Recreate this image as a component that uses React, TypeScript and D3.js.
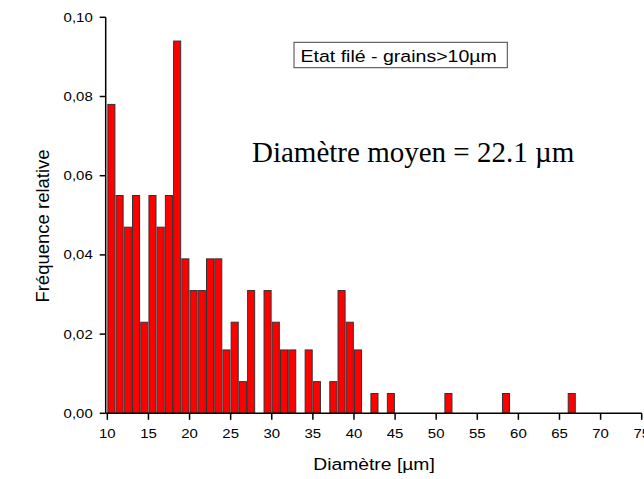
import React from "react";
import * as d3 from "d3";

const bins: number[] = [10, 11, 12, 13, 14, 15, 16, 17, 18, 19, 20, 21, 22, 23, 24, 25, 26, 27, 29, 30, 31, 32, 34, 35, 37, 38, 39, 40, 42, 44, 51, 58, 66];
const freqs: number[] = [0.078, 0.055, 0.047, 0.055, 0.023, 0.055, 0.047, 0.055, 0.094, 0.039, 0.031, 0.031, 0.039, 0.039, 0.016, 0.023, 0.008, 0.031, 0.031, 0.023, 0.016, 0.016, 0.016, 0.008, 0.008, 0.031, 0.023, 0.016, 0.005, 0.005, 0.005, 0.005, 0.005];
const xTicks: number[] = [10, 15, 20, 25, 30, 35, 40, 45, 50, 55, 60, 65, 70, 75];
const yTicks: number[] = [0, 0.02, 0.04, 0.06, 0.08, 0.1];
const legendText = "Etat filé - grains>10µm";
const annotation = "Diamètre moyen = 22.1 µm";
const xTitle = "Diamètre [µm]";
const yTitle = "Fréquence relative";

const W = 644;
const H = 479;
const SANS = "'Liberation Sans', Arial, sans-serif";
const SERIF = "'Liberation Serif', 'Times New Roman', serif";
const SX = 1.15;

export default function App() {
  const x = d3.scaleLinear().domain([9.8, 75]).range([105.7, 641.7]);
  const y = d3.scaleLinear().domain([0, 0.1]).range([413.3, 17.3]);
  const fmt = (v: number) => d3.format(".2f")(v).replace(".", ",");
  const data = bins.map((b, i) => ({ b, v: freqs[i] }));

  return (
    <svg width={W} height={H} style={{ position: "absolute", left: 0, top: 0, background: "#fff" }}>
      <rect x={0} y={0} width={W} height={H} fill="#fff" />
      {data.map((d, i) => (
        <rect
          key={i}
          x={x(d.b) + 0.5}
          y={y(d.v)}
          width={x(d.b + 0.86) - x(d.b)}
          height={y(0) - y(d.v)}
          fill="#ff0000"
          stroke="#333"
          strokeWidth={1}
        />
      ))}
      <line x1={x(9.8)} x2={x(9.8)} y1={y(0.1)} y2={y(0)} stroke="#000" strokeWidth={1.5} />
      <line x1={x(9.8)} x2={x(75)} y1={y(0)} y2={y(0)} stroke="#000" strokeWidth={1.5} />
      {yTicks.map((t) => (
        <g key={"y" + t}>
          <line x1={x(9.8) - 6} x2={x(9.8)} y1={y(t)} y2={y(t)} stroke="#000" strokeWidth={1.5} />
          <text
            transform={`translate(${x(9.8) - 13},${y(t) + 4.5}) scale(${SX},1)`}
            textAnchor="end"
            fontFamily={SANS}
            fontSize={13}
            fill="#000"
          >
            {fmt(t)}
          </text>
        </g>
      ))}
      {xTicks.map((t) => (
        <g key={"x" + t}>
          <line x1={x(t)} x2={x(t)} y1={y(0)} y2={y(0) + 6.5} stroke="#000" strokeWidth={1.5} />
          <text
            transform={`translate(${x(t)},${438}) scale(${SX},1)`}
            textAnchor="middle"
            fontFamily={SANS}
            fontSize={13}
            fill="#000"
          >
            {t}
          </text>
        </g>
      ))}
      <text
        transform={`translate(374,470) scale(${SX},1)`}
        textAnchor="middle"
        fontFamily={SANS}
        fontSize={16.8}
        fill="#000"
      >
        {xTitle}
      </text>
      <text
        transform={`translate(49,226) rotate(-90)`}
        textAnchor="middle"
        fontFamily={SANS}
        fontSize={18.5}
        fill="#000"
      >
        {yTitle}
      </text>
      <rect x={294} y={42.3} width={213.3} height={25.4} fill="#fff" stroke="#444" strokeWidth={1} />
      <text
        transform={`translate(300.5,61.5) scale(${SX},1)`}
        fontFamily={SANS}
        fontSize={17}
        fill="#000"
      >
        {legendText}
      </text>
      <text x={252} y={162.3} fontFamily={SERIF} fontSize={29} fill="#000">
        {annotation}
      </text>
    </svg>
  );
}
